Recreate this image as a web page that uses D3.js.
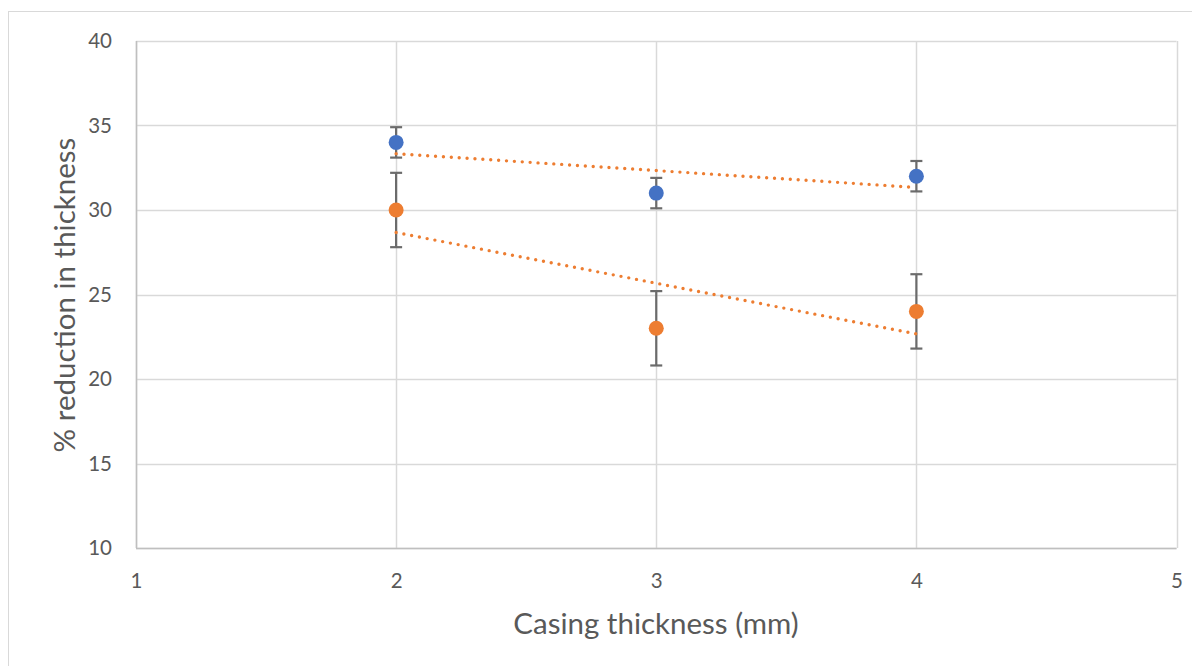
<!DOCTYPE html>
<html><head><meta charset="utf-8">
<script src="https://cdn.jsdelivr.net/npm/d3@7"></script>
<style>body{margin:0;background:#fff;} text{font-family:Lato,"Open Sans",sans-serif;}</style>
</head><body>
<svg id="c" width="1192" height="666"></svg>
<script>
const xValues = [2, 3, 4];
const seriesA = [34, 31, 32];
const seriesB = [30, 23, 24];
const errA = [0.9, 0.9, 0.9];
const errB = [2.2, 2.2, 2.2];
const xTicks = [1, 2, 3, 4, 5];
const yTicks = [10, 15, 20, 25, 30, 35, 40];
const colorA = "#4472C4", colorB = "#ED7D31", trendColor = "#ED7D31";

const svg = d3.select("#c");
svg.append("rect").attr("x", 8.5).attr("y", 11.5).attr("width", 1200).attr("height", 700)
  .attr("fill", "#fff").attr("stroke", "#d9d9d9");

const x = d3.scaleLinear().domain([1, 5]).range([136, 1176.5]);
const y = d3.scaleLinear().domain([10, 40]).range([548, 41]);

// gridlines
svg.append("g").selectAll("line.h").data(yTicks).join("line")
  .attr("x1", x(1)).attr("x2", x(5)).attr("y1", d => Math.round(y(d)) + 0.5).attr("y2", d => Math.round(y(d)) + 0.5)
  .attr("stroke", "#d9d9d9").attr("stroke-width", 1.5);
svg.append("g").selectAll("line.v").data(xTicks).join("line")
  .attr("y1", y(10)).attr("y2", y(40)).attr("x1", d => Math.round(x(d)) + 0.5).attr("x2", d => Math.round(x(d)) + 0.5)
  .attr("stroke", "#d9d9d9").attr("stroke-width", 1.5);
// axes lines
svg.append("line").attr("x1", x(1)).attr("x2", x(5)).attr("y1", y(10) + 0.5).attr("y2", y(10) + 0.5).attr("stroke", "#bfbfbf").attr("stroke-width", 1.5);
svg.append("line").attr("x1", x(1) + 0.5).attr("x2", x(1) + 0.5).attr("y1", y(10)).attr("y2", y(40)).attr("stroke", "#bfbfbf").attr("stroke-width", 1.5);

// axes with d3
const yAxis = d3.axisLeft(y).tickValues(yTicks).tickSize(0).tickPadding(24).tickFormat(d3.format("d"));
const gy = svg.append("g").attr("transform", `translate(${x(1)},0)`).call(yAxis);
gy.select(".domain").remove();
gy.selectAll("text").attr("fill", "#595959").style("font-size", "20.5px").style("font-family", "Lato,'Open Sans',sans-serif");
const xAxis = d3.axisBottom(x).tickValues(xTicks).tickSize(0).tickPadding(25).tickFormat(d3.format("d"));
const gx = svg.append("g").attr("transform", `translate(0,${y(10)})`).call(xAxis);
gx.select(".domain").remove();
gx.selectAll("text").attr("fill", "#595959").style("font-size", "20.5px").style("font-family", "Lato,'Open Sans',sans-serif");

// axis titles
svg.append("text").attr("x", 656).attr("y", 634).attr("text-anchor", "middle")
  .attr("fill", "#595959").style("font-size", "29.5px").text("Casing thickness (mm)");
svg.append("text").attr("transform", "translate(75,295) rotate(-90)").attr("text-anchor", "middle")
  .attr("fill", "#595959").style("font-size", "29.5px").text("% reduction in thickness");

function drawSeries(vals, errs, color) {
  const g = svg.append("g");
  const data = xValues.map((xv, i) => ({x: xv, y: vals[i], e: errs[i]}));
  g.selectAll("line.eb").data(data).join("line")
    .attr("x1", d => x(d.x)).attr("x2", d => x(d.x)).attr("y1", d => y(d.y + d.e)).attr("y2", d => y(d.y - d.e))
    .attr("stroke", "#6b6b6b").attr("stroke-width", 2.2);
  g.selectAll("line.ct").data(data).join("line")
    .attr("x1", d => x(d.x) - 6).attr("x2", d => x(d.x) + 6).attr("y1", d => y(d.y + d.e)).attr("y2", d => y(d.y + d.e))
    .attr("stroke", "#6b6b6b").attr("stroke-width", 2.2);
  g.selectAll("line.cb").data(data).join("line")
    .attr("x1", d => x(d.x) - 6).attr("x2", d => x(d.x) + 6).attr("y1", d => y(d.y - d.e)).attr("y2", d => y(d.y - d.e))
    .attr("stroke", "#6b6b6b").attr("stroke-width", 2.2);
  g.selectAll("circle").data(data).join("circle")
    .attr("cx", d => x(d.x)).attr("cy", d => y(d.y)).attr("r", 7.5).attr("fill", color);
}
function drawTrend(vals) {
  const mx = d3.mean(xValues), my = d3.mean(vals);
  const slope = d3.sum(xValues.map((xv, i) => (xv - mx) * (vals[i] - my))) / d3.sum(xValues.map(xv => (xv - mx) ** 2));
  const b = my - slope * mx;
  const x0 = d3.min(xValues), x1 = d3.max(xValues);
  svg.append("line").attr("x1", x(x0)).attr("y1", y(slope * x0 + b)).attr("x2", x(x1)).attr("y2", y(slope * x1 + b))
    .attr("stroke", trendColor).attr("stroke-width", 3.4).attr("stroke-linecap", "round").attr("stroke-dasharray", "0,7.9");
}
drawSeries(seriesA, errA, colorA);
drawSeries(seriesB, errB, colorB);
drawTrend(seriesA);
drawTrend(seriesB);
</script>
</body></html>
